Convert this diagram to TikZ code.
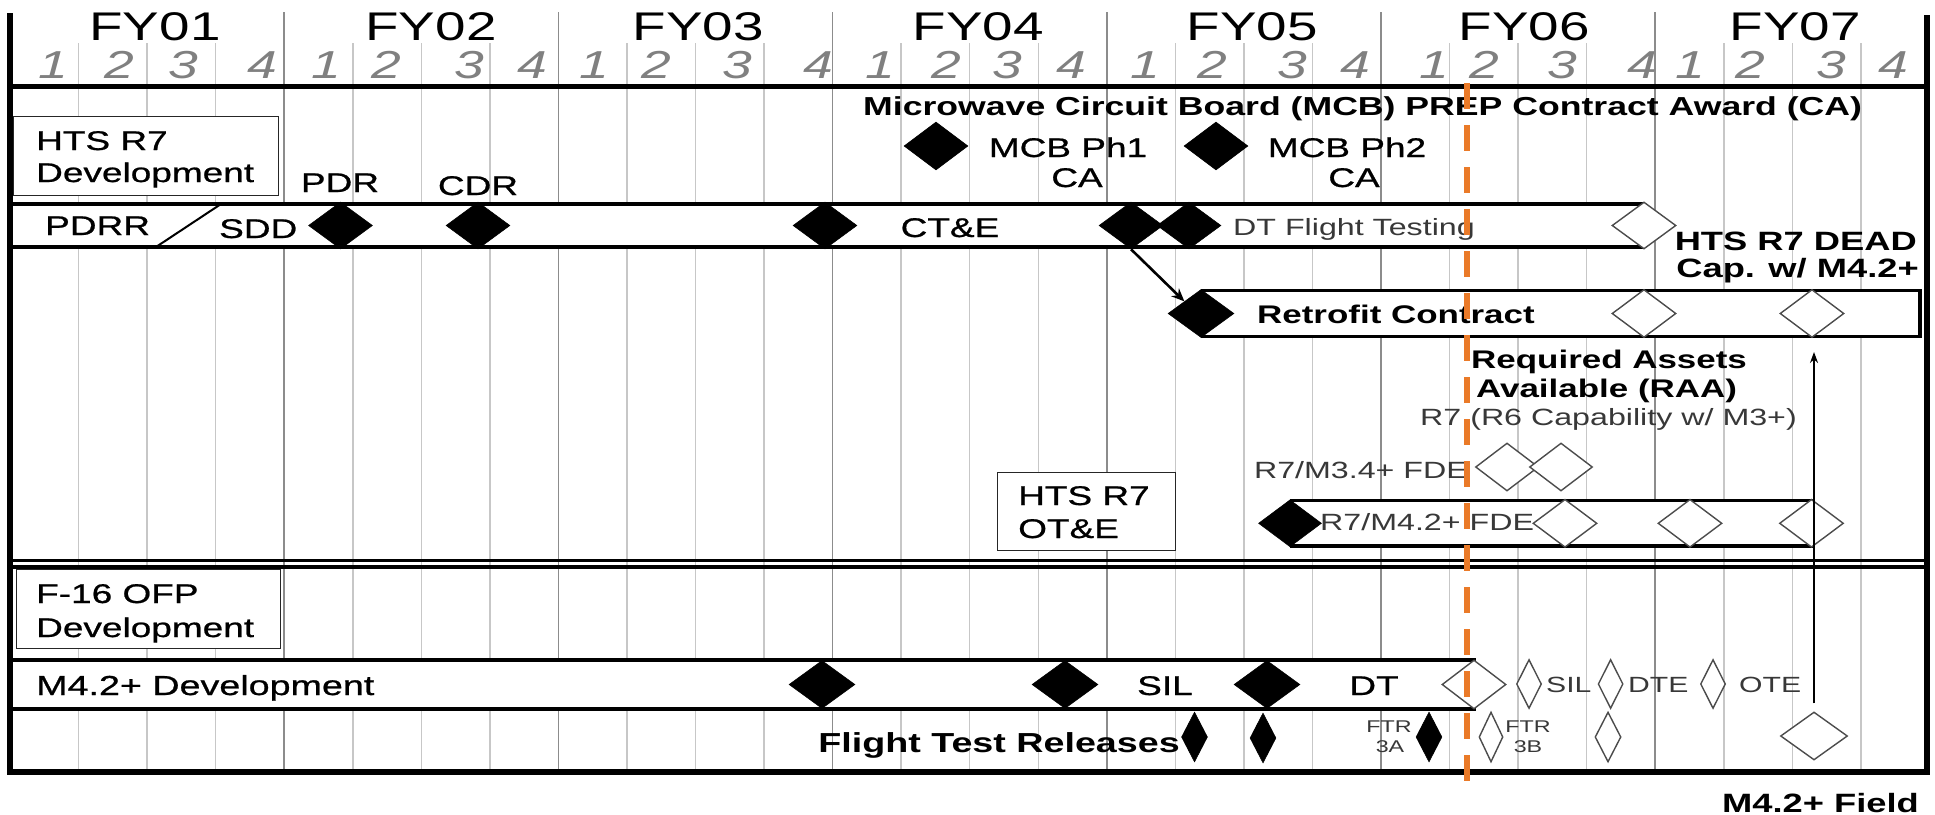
\documentclass[tikz,border=0pt]{standalone}
\usepackage{fontspec}
\setmainfont{Liberation Sans}[FakeStretch=1.37]
\newfontfamily\medfont{Liberation Sans}[FakeStretch=1.37, FakeBold=0.8]
\usetikzlibrary{shapes.geometric,arrows.meta}
\definecolor{dashorange}{RGB}{234,122,40}
\newcommand\myfs[1]{\fontsize{#1}{#1}\selectfont}
\begin{document}
\begin{tikzpicture}[x=1pt,y=-1pt,
  txt/.style={inner sep=0pt, anchor=base},
  txtw/.style={inner sep=0pt, anchor=base west},
  txte/.style={inner sep=0pt, anchor=base east},
  thintxt/.style={text=black!78},
  bdia/.style={diamond, fill=black, draw=black, line width=0.5pt, inner sep=0pt, minimum width=64pt, minimum height=47pt},
  odia/.style={diamond, fill=white, draw=black!70, line width=1.4pt, inner sep=0pt, minimum width=64pt, minimum height=48pt},
  nbdia/.style={bdia, minimum width=26pt, minimum height=50pt},
  nodia/.style={odia, minimum width=25pt, minimum height=49pt},
  lbox/.style={rectangle, draw=black!85, fill=white, line width=1.4pt, inner sep=0pt, anchor=north west},
  barline/.style={line width=3.6pt, black},
  framel/.style={line width=6pt, black},
  qline/.style={line width=1.5pt, black!22},
  yline/.style={line width=1.6pt, black!45},
]
\useasboundingbox (0,0) rectangle (1935,814);
\fill[white] (0,0) rectangle (1935,814);
% grid
\foreach \k in {1,...,27}{
  \pgfmathsetmacro\xx{10+68.55*\k}
  \pgfmathtruncatemacro\mm{mod(\k,4)}
  \ifnum\mm=0
    \draw[yline] (\xx,12) -- (\xx,770);
  \else
    \draw[qline] (\xx,43) -- (\xx,770);
  \fi
}
% header labels
\foreach \x/\t in {155/FY01,431/FY02,698/FY03,978/FY04,1252/FY05,1524/FY06,1795/FY07}
  \node[txt, font=\myfs{40}] (\t) at (\x,40) {\t};
\foreach \x/\d [count=\i] in {53/1,119/2,183/3,262/4,326/1,386/2,469/3,532/4,594/1,656/2,737/3,818/4,880/1,946/2,1007/3,1071/4,1145/1,1212/2,1292/3,1355/4,1434/1,1484/2,1562/3,1642/4,1690/1,1750/2,1831/3,1893/4}
  \node[txt, font=\myfs{39}\itshape, text=black!50] (q\i) at (\x,78) {\d};
% bars
\fill[white] (12,204) rectangle (1644,247);
\draw[barline] (12,204) -- (1644,204) (12,247) -- (1644,247);
\draw[line width=2pt] (156,247) -- (221,204);
\fill[white] (1201,290.5) rectangle (1920,336.5);
\draw[barline] (1201,290.5) -- (1920,290.5) -- (1920,336.5) -- (1201,336.5);
\fill[white] (1290,500.5) rectangle (1813,546);
\draw[barline] (1290,500.5) -- (1813,500.5) (1290,546) -- (1813,546);
\fill[white] (12,660) rectangle (1476,709);
\draw[barline] (12,660) -- (1476,660) (12,709) -- (1476,709);
% boxes
\node[lbox, minimum width=265pt, minimum height=79pt] (htsdev) at (13,116) {};
\node[lbox, minimum width=178pt, minimum height=78pt] (htsote) at (997,472) {};
\node[lbox, minimum width=264pt, minimum height=79pt] (f16dev) at (16,569) {};
% frame
\draw[framel] (10,13) -- (10,775);
\draw[framel] (1927,15) -- (1927,775);
\draw[line width=5pt] (10,86) -- (1927,86);
\draw[framel] (7,772) -- (1930,772);
\draw[line width=3pt] (10,560) -- (1927,560);
\draw[line width=3.5pt] (10,567) -- (1927,567);
% diamonds
\node[bdia, minimum height=48pt] (ph1d) at (936,146) {};
\node[bdia, minimum height=48pt] (ph2d) at (1216,146) {};
\node[bdia] (pdrd) at (340.5,225.5) {};
\node[bdia] (cdrd) at (478,225.5) {};
\node[bdia] (cted) at (825,225.5) {};
\node[bdia] (dt1) at (1131,225.5) {};
\node[bdia] (dt2) at (1189,225.5) {};
\node[odia, minimum height=47pt] (dtend) at (1644,225.5) {};
\node[bdia, minimum width=66pt, minimum height=48pt] (retd) at (1201,313.5) {};
\node[odia] (ret1) at (1644,313.5) {};
\node[odia] (ret2) at (1812,313.5) {};
\node[odia, minimum width=63pt] (m34a) at (1507,467) {};
\node[odia, minimum width=63pt] (m34b) at (1561,467) {};
\node[bdia, minimum width=63pt] (fded) at (1290,523.3) {};
\node[odia] (fde1) at (1565,523.3) {};
\node[odia] (fde2) at (1690,523.3) {};
\node[odia] (fde3) at (1811.5,523.3) {};
\node[bdia, minimum width=66pt, minimum height=48pt] (m42a) at (822,684.5) {};
\node[bdia, minimum width=66pt, minimum height=48pt] (m42b) at (1065,684.5) {};
\node[bdia, minimum width=66pt, minimum height=48pt] (m42c) at (1267,684.5) {};
\node[odia, minimum height=49pt] (m42end) at (1474,684.5) {};
\node[nodia] (sild) at (1529,684) {};
\node[nodia] (dted) at (1610.6,684) {};
\node[nodia] (oted) at (1713,684) {};
\node[nbdia] (ftr1) at (1194.5,737) {};
\node[nbdia] (ftr2) at (1263,738) {};
\node[nbdia] (ftr3a) at (1429,737) {};
\node[nodia, minimum width=24pt, minimum height=50pt] (ftr3b) at (1491,737) {};
\node[nodia, minimum width=26pt, minimum height=50pt] (ftr4) at (1608,737) {};
\node[odia, minimum width=67pt] (field) at (1814,736) {};
% texts
\node[txtw, font=\myfs{26}\bfseries] (mcbprep) at (863,115) {Microwave Circuit Board (MCB) PREP Contract Award (CA)};
\node[txt, font=\myfs{27}\medfont] (ph1a) at (1068,157) {MCB Ph1};
\node[txt, font=\myfs{27}\medfont] (ph1b) at (1077,187) {CA};
\node[txt, font=\myfs{27}\medfont] (ph2a) at (1347,157) {MCB Ph2};
\node[txt, font=\myfs{27}\medfont] (ph2b) at (1354,187) {CA};
\node[txtw, font=\myfs{27}\medfont] (htsdev1) at (36,150) {HTS R7};
\node[txtw, font=\myfs{27}\medfont] (htsdev2) at (36,182) {Development};
\node[txt, font=\myfs{27}\medfont] (pdrt) at (340,192) {PDR};
\node[txt, font=\myfs{27}\medfont] (cdrt) at (478,195) {CDR};
\node[txtw, font=\myfs{27}\medfont] (pdrr) at (45,235) {PDRR};
\node[txtw, font=\myfs{27}\medfont] (sdd) at (219,238) {SDD};
\node[txt, font=\myfs{27}\medfont] (cte) at (950,237) {CT\&E};
\node[txtw, font=\myfs{23.5}, thintxt] (dtft) at (1233,235) {DT Flight Testing};
\node[txte, font=\myfs{26.5}\bfseries] (dead1) at (1917,250) {HTS R7 DEAD};
\node[txte, font=\myfs{26.5}\bfseries] (dead2) at (1919,277) {Cap. w/ M4.2+};
\node[txtw, font=\myfs{25.5}\bfseries] (retro) at (1257,323) {Retrofit Contract};
\node[txtw, font=\myfs{25.5}\bfseries] (raa1) at (1471,368) {Required Assets};
\node[txtw, font=\myfs{25.5}\bfseries] (raa2) at (1476,397) {Available (RAA)};
\node[txtw, font=\myfs{23.5}, thintxt] (r6cap) at (1420,425) {R7 (R6 Capability w/ M3+)};
\node[txte, font=\myfs{23.5}, thintxt] (m34t) at (1468,478) {R7/M3.4+ FDE};
\node[txtw, font=\myfs{27}\medfont] (ote1) at (1018,505) {HTS R7};
\node[txtw, font=\myfs{27}\medfont] (ote2) at (1018,538) {OT\&E};
\node[txtw, font=\myfs{23.5}, thintxt] (m42t) at (1320,530) {R7/M4.2+ FDE};
\node[txtw, font=\myfs{27}\medfont] (f16a) at (36,603) {F-16 OFP};
\node[txtw, font=\myfs{27}\medfont] (f16b) at (36,637) {Development};
\node[txtw, font=\myfs{27.5}\medfont] (m42dev) at (36,695) {M4.2+ Development};
\node[txtw, font=\myfs{27}\medfont] (silt) at (1137,695) {SIL};
\node[txt, font=\myfs{27}\medfont] (dtt) at (1374,695) {DT};
\node[txtw, font=\myfs{22}, thintxt] (silt2) at (1546,692) {SIL};
\node[txtw, font=\myfs{22}, thintxt] (dtet) at (1628,692) {DTE};
\node[txtw, font=\myfs{22}, thintxt] (otet) at (1739,692) {OTE};
\node[txte, font=\myfs{27.5}\bfseries] (ftrel) at (1180,752) {Flight Test Releases};
\node[txt, font=\myfs{17}, thintxt] (ftra1) at (1389,732) {FTR};
\node[txt, font=\myfs{17}, thintxt] (ftra2) at (1390,752) {3A};
\node[txt, font=\myfs{17}, thintxt] (ftrb1) at (1528,732) {FTR};
\node[txt, font=\myfs{17}, thintxt] (ftrb2) at (1528,752) {3B};
\node[txte, font=\myfs{26.5}\bfseries] (fieldt) at (1919,812) {M4.2+ Field};
% connectors
\coordinate (raay) at (0,352);
\draw[line width=2.6pt, -{Stealth[length=13pt,width=11pt]}] (dt1.south) -- (retd.north west);
\draw[line width=1.5pt, -{Stealth[length=11pt,width=8pt]}] ([yshift=8pt]field.north) -- (field.north |- raay);
% today line
\draw[dashorange, line width=6pt, dash pattern=on 26pt off 16pt] (1467,83) -- (1467,782);
\end{tikzpicture}
\end{document}
